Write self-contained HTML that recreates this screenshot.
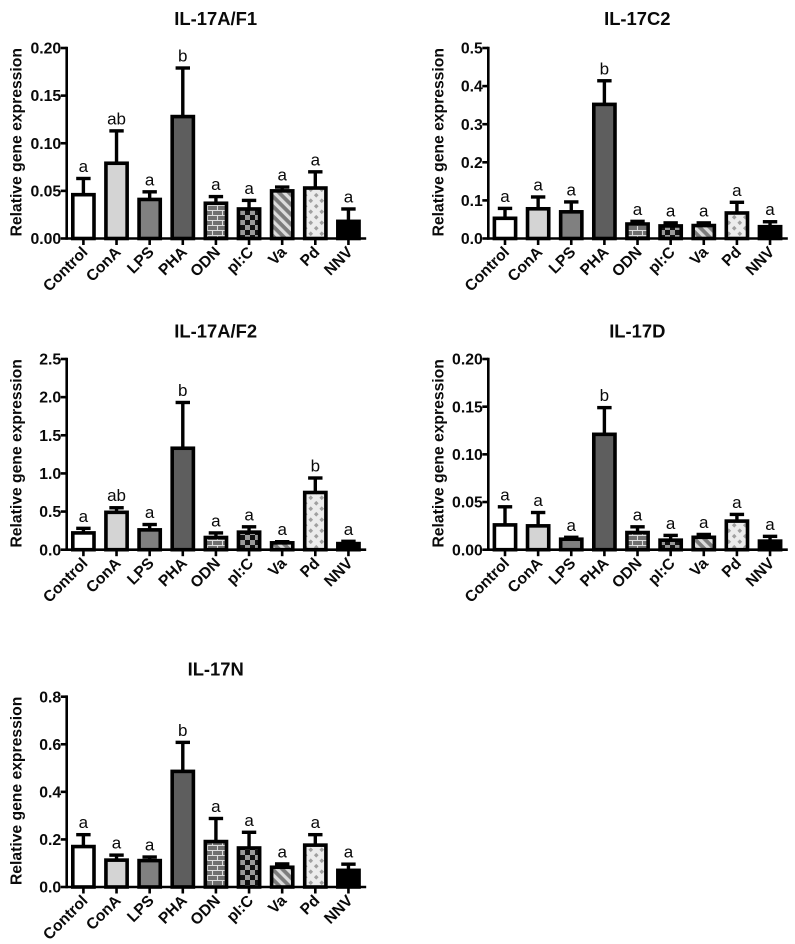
<!DOCTYPE html>
<html lang="en">
<head>
<meta charset="utf-8">
<title>IL-17 relative gene expression</title>
<style>
html,body{margin:0;padding:0;background:#fff;}
svg{display:block;filter:blur(0.3px);}
text{font-family:"Liberation Sans",Arial,sans-serif;fill:#0a0a0a;}
.tick{font-weight:bold;font-size:15.8px;}
.cat{font-weight:bold;font-size:15.6px;}
.title{font-weight:bold;font-size:18.4px;}
.ytitle{font-weight:bold;font-size:15.7px;}
.letter{font-size:17px;}
</style>
</head>
<body>
<svg id="figure" width="795" height="944" viewBox="0 0 795 944" xmlns="http://www.w3.org/2000/svg">
<defs>
<pattern id="brick" patternUnits="userSpaceOnUse" width="10" height="10" x="0" y="0">
<rect width="10" height="10" fill="#6f6f6f"/>
<path d="M0 .5H10M0 5.5H10M2.5 0V5M7.5 5V10" stroke="#ddd" stroke-width="1.1" fill="none"/>
</pattern>
<pattern id="checker" patternUnits="userSpaceOnUse" width="10" height="10">
<rect width="10" height="10" fill="#111"/>
<rect width="5" height="5" fill="#9a9a9a"/>
<rect x="5" y="5" width="5" height="5" fill="#9a9a9a"/>
</pattern>
<pattern id="stripes" patternUnits="userSpaceOnUse" width="7" height="7" patternTransform="rotate(-45)">
<rect width="7" height="7" fill="#7c7c7c"/>
<rect width="3.2" height="7" fill="#dcdcdc"/>
</pattern>
<pattern id="dots" patternUnits="userSpaceOnUse" width="11" height="11">
<rect width="11" height="11" fill="#ececec"/>
<path d="M2.75 0.4L5.1 2.75L2.75 5.1L.4 2.75ZM8.25 5.9L10.6 8.25L8.25 10.6L5.9 8.25Z" fill="#a0a0a0"/>
</pattern>
</defs>
</svg>
<script>
var categories = ["Control","ConA","LPS","PHA","ODN","pI:C","Va","Pd","NNV"];

var ticksF1 = ["0.00","0.05","0.10","0.15","0.20"];
var meansF1 = [0.046,0.079,0.041,0.128,0.037,0.031,0.050,0.053,0.018];
var upperF1 = [0.063,0.113,0.049,0.179,0.044,0.040,0.054,0.070,0.031];
var lettersF1 = ["a","ab","a","b","a","a","a","a","a"];

var ticksC2 = ["0.0","0.1","0.2","0.3","0.4","0.5"];
var meansC2 = [0.053,0.078,0.070,0.352,0.038,0.033,0.034,0.067,0.031];
var upperC2 = [0.079,0.109,0.096,0.414,0.045,0.041,0.041,0.095,0.044];
var lettersC2 = ["a","a","a","b","a","a","a","a","a"];

var ticksF2 = ["0.0","0.5","1.0","1.5","2.0","2.5"];
var meansF2 = [0.22,0.49,0.26,1.33,0.16,0.23,0.09,0.75,0.08];
var upperF2 = [0.28,0.55,0.33,1.93,0.22,0.30,0.105,0.94,0.11];
var lettersF2 = ["a","ab","a","b","a","a","a","b","a"];

var ticksD = ["0.00","0.05","0.10","0.15","0.20"];
var meansD = [0.026,0.025,0.011,0.121,0.018,0.010,0.013,0.030,0.009];
var upperD = [0.045,0.039,0.013,0.149,0.024,0.015,0.016,0.037,0.014];
var lettersD = ["a","a","a","b","a","a","a","a","a"];

var ticksN = ["0.0","0.2","0.4","0.6","0.8"];
var meansN = [0.170,0.113,0.111,0.486,0.191,0.164,0.083,0.176,0.070];
var upperN = [0.220,0.134,0.126,0.608,0.288,0.230,0.097,0.220,0.096];
var lettersN = ["a","a","a","b","a","a","a","a","a"];

var barFills = ["#ffffff","#d4d4d4","#808080","#5e5e5e","url(#brick)","url(#checker)","url(#stripes)","url(#dots)","#000000"];

var panels = [
  {slug:"il-17a-f1", title:"IL-17A/F1", axisX:66.7, top:48, base:238.5, titleY:25, ticks:ticksF1, means:meansF1, upper:upperF1, letters:lettersF1},
  {slug:"il-17c2", title:"IL-17C2", axisX:488.3, top:48, base:238.5, titleY:25, ticks:ticksC2, means:meansC2, upper:upperC2, letters:lettersC2},
  {slug:"il-17a-f2", title:"IL-17A/F2", axisX:66.7, top:359, base:549.7, titleY:337.5, ticks:ticksF2, means:meansF2, upper:upperF2, letters:lettersF2},
  {slug:"il-17d", title:"IL-17D", axisX:488.3, top:359, base:549.7, titleY:337.5, ticks:ticksD, means:meansD, upper:upperD, letters:lettersD},
  {slug:"il-17n", title:"IL-17N", axisX:66.7, top:696.7, base:887, titleY:675.5, ticks:ticksN, means:meansN, upper:upperN, letters:lettersN}
];

var NS = "http://www.w3.org/2000/svg";
var figure = document.getElementById("figure");

function make(tag, parent, attrs, content) {
  var node = document.createElementNS(NS, tag);
  for (var key in attrs) { node.setAttribute(key, attrs[key]); }
  if (content !== undefined) { node.textContent = content; }
  parent.appendChild(node);
  return node;
}

function drawPanel(p) {
  var yMax = parseFloat(p.ticks[p.ticks.length - 1]);
  var yScale = function (v) { return p.base - (v / yMax) * (p.base - p.top); };
  var xScale = function (i) { return p.axisX + 16.7 + i * 33.13; };
  var el;

  var group = make("g", figure, {});
  
  

  var midX = (p.axisX + p.axisX + 298) / 2;
  el = make("text", group, {x: midX, y: p.titleY, "text-anchor": "middle", "class": "title"}, p.title);
  
  

  var midY = (p.top + p.base) / 2 - 1;
  el = make("text", group, {x: 0, y: 0, "text-anchor": "middle", "class": "ytitle", transform: "translate(" + (p.axisX - 45) + " " + midY + ") rotate(-90)"}, "Relative gene expression");
  
  

  p.ticks.forEach(function (label) {
    var y = yScale(parseFloat(label));
    el = make("line", group, {x1: p.axisX - 6, x2: p.axisX, y1: y, y2: y, stroke: "#000", "stroke-width": 2.6});
    
    
    el = make("text", group, {x: p.axisX - 5.5, y: y + 5.6, "text-anchor": "end", "class": "tick"}, label);
    
    
  });

  categories.forEach(function (name, i) {
    var cx = xScale(i);
    var yMean = yScale(p.means[i]);
    var yUpper = yScale(p.upper[i]);

    el = make("line", group, {x1: cx, x2: cx, y1: yMean, y2: yUpper, stroke: "#000", "stroke-width": 3.4});
    
    

    el = make("line", group, {x1: cx - 7.2, x2: cx + 7.2, y1: yUpper, y2: yUpper, stroke: "#000", "stroke-width": 3.4});
    
    

    el = make("rect", group, {x: cx - 10.6, y: yMean, width: 21.2, height: Math.max(0, p.base - yMean), fill: barFills[i], stroke: "#000", "stroke-width": 3.6});
    
    

    el = make("text", group, {x: cx, y: yUpper - 6.5, "text-anchor": "middle", "class": "letter"}, p.letters[i]);
    
    

    el = make("line", group, {x1: cx, x2: cx, y1: p.base, y2: p.base + 6.5, stroke: "#000", "stroke-width": 2.6});
    
    

    el = make("text", group, {x: 0, y: 0, "text-anchor": "end", "class": "cat", transform: "translate(" + (cx + 5.2) + " " + (p.base + 14.5) + ") rotate(-45)"}, name);
    
    
  });

  el = make("line", group, {x1: p.axisX, x2: p.axisX, y1: p.top - 1.3, y2: p.base + 1.3, stroke: "#000", "stroke-width": 2.6});
  
  

  el = make("line", group, {x1: p.axisX, x2: p.axisX + 299.5, y1: p.base, y2: p.base, stroke: "#000", "stroke-width": 2.6});
  
  
}

panels.forEach(drawPanel);
</script>
</body>
</html>
